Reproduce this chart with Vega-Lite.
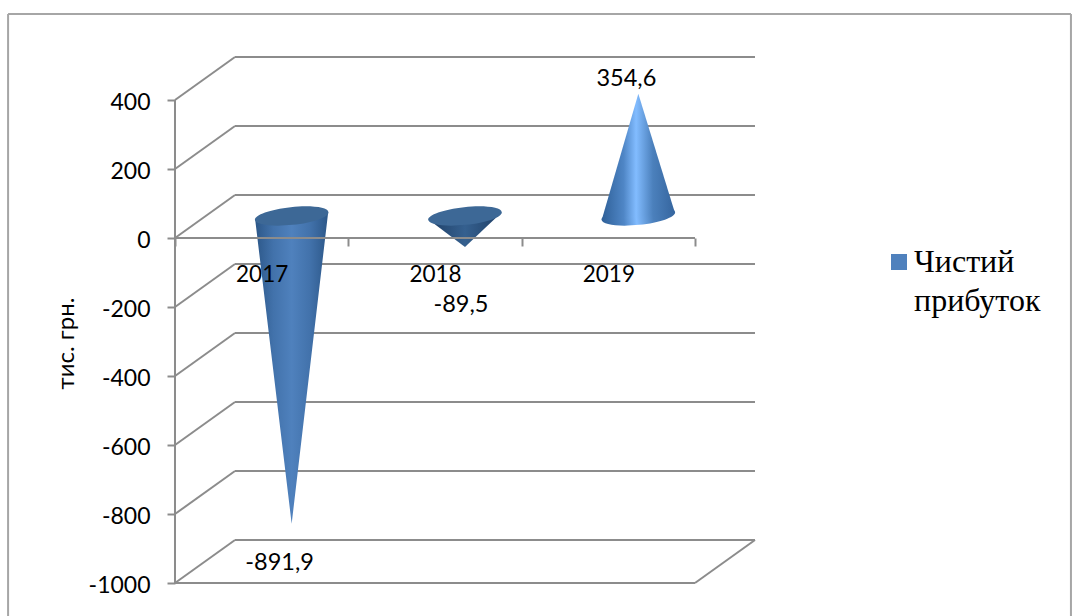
{
  "$schema": "https://vega.github.io/schema/vega-lite/v6.json",
  "width": 1078,
  "height": 616,
  "padding": 0,
  "autosize": "none",
  "background": "white",
  "config": {"view": {"stroke": null}},
  "datasets": {
    "profit": [
      {"year": 2017, "value": -891.9, "series": "Чистий прибуток"},
      {"year": 2018, "value": -89.5, "series": "Чистий прибуток"},
      {"year": 2019, "value": 354.6, "series": "Чистий прибуток"}
    ],
    "levels": [
      {"level": 400}, {"level": 200}, {"level": 0}, {"level": -200},
      {"level": -400}, {"level": -600}, {"level": -800}, {"level": -1000}
    ],
    "single": [{"row": 1}]
  },
  "layer": [
    {
      "description": "outer frame",
      "data": {"name": "single"},
      "mark": {"type": "rule", "color": "#a6a6a6", "strokeWidth": 2},
      "encoding": {
        "x": {"datum": 2015.537, "type": "quantitative", "axis": null,
          "scale": {"domain": [2015.4904, 2021.7097], "nice": false, "zero": false}},
        "x2": {"datum": 2021.669},
        "y": {"datum": 649, "type": "quantitative", "axis": null,
          "scale": {"domain": [-1095.65, 689.86], "nice": false, "zero": false}}
      }
    },
    {
      "data": {"name": "single"},
      "mark": {"type": "rule", "color": "#a6a6a6", "strokeWidth": 2},
      "encoding": {
        "x": {"datum": 2015.537, "type": "quantitative", "axis": null},
        "y": {"datum": 649, "type": "quantitative", "axis": null},
        "y2": {"datum": -1095.65}
      }
    },
    {
      "data": {"name": "single"},
      "mark": {"type": "rule", "color": "#a6a6a6", "strokeWidth": 2},
      "encoding": {
        "x": {"datum": 2021.669, "type": "quantitative", "axis": null},
        "y": {"datum": 649, "type": "quantitative", "axis": null},
        "y2": {"datum": -1095.65}
      }
    },
    {
      "description": "back wall lines",
      "data": {"name": "levels"},
      "mark": {"type": "rule", "color": "#8c8c8c", "strokeWidth": 2, "xOffset": 60, "x2Offset": 60, "yOffset": -43},
      "encoding": {
        "x": {"datum": 2016.5, "type": "quantitative", "axis": null},
        "x2": {"datum": 2019.5},
        "y": {"field": "level", "type": "quantitative", "axis": null}
      }
    },
    {
      "description": "side wall lines",
      "data": {"name": "levels"},
      "mark": {"type": "rule", "color": "#8c8c8c", "strokeWidth": 2, "x2Offset": 60, "y2Offset": -43},
      "encoding": {
        "x": {"datum": 2016.5, "type": "quantitative", "axis": null},
        "x2": {"datum": 2016.5},
        "y": {"field": "level", "type": "quantitative", "axis": null},
        "y2": {"field": "level"}
      }
    },
    {
      "description": "floor edges",
      "data": {"name": "single"},
      "mark": {"type": "rule", "color": "#8c8c8c", "strokeWidth": 2},
      "encoding": {
        "x": {"datum": 2016.5, "type": "quantitative", "axis": null},
        "x2": {"datum": 2019.5},
        "y": {"datum": -1000, "type": "quantitative", "axis": null}
      }
    },
    {
      "data": {"name": "single"},
      "mark": {"type": "rule", "color": "#8c8c8c", "strokeWidth": 2, "x2Offset": 60, "y2Offset": -43},
      "encoding": {
        "x": {"datum": 2019.5, "type": "quantitative", "axis": null},
        "x2": {"datum": 2019.5},
        "y": {"datum": -1000, "type": "quantitative", "axis": null},
        "y2": {"datum": -1000}
      }
    },
    {
      "description": "vertical value axis with its ticks and labels",
      "data": {"name": "single"},
      "mark": {"type": "rule", "color": "#8c8c8c", "strokeWidth": 2},
      "encoding": {
        "x": {"datum": 2016.5, "type": "quantitative", "axis": null},
        "y": {"datum": 400, "type": "quantitative",
          "axis": {
            "orient": "left", "offset": -175, "domain": false, "grid": false,
            "values": [400, 200, 0, -200, -400, -600, -800, -1000],
            "tickSize": 8, "tickWidth": 2, "tickColor": "#8c8c8c",
            "labelFont": "Lato", "labelFontSize": 23, "labelColor": "#000000", "labelPadding": 17, "labelOffset": 2,
            "labelExpr": "'' + datum.value",
            "title": "тис. грн.", "titleFont": "Lato", "titleFontSize": 24, "titleFontWeight": "normal",
            "titleColor": "#000000", "titleX": -109, "titleY": 343, "titleAngle": -90,
            "titleAlign": "center", "titleBaseline": "middle"
          }},
        "y2": {"datum": -1000}
      }
    },
    {
      "description": "base of the upward cone, seen from below",
      "data": {"name": "profit"},
      "transform": [{"filter": "datum.year === 2019"}],
      "mark": {
        "type": "point", "filled": true, "opacity": 1, "shape": "M-1,0A1,0.24 0 1 1 1,0A1,0.24 0 1 1 -1,0Z",
        "size": 5476, "angle": -6, "xOffset": 30, "yOffset": -22,
        "fill": {"x1": 0, "x2": 1, "y1": 0, "y2": 0, "gradient": "linear", "stops": [
          {"offset": 0, "color": "#2f6098"}, {"offset": 0.3, "color": "#4f86c6"},
          {"offset": 0.47, "color": "#82bcff"}, {"offset": 0.7, "color": "#4b80bc"}, {"offset": 1, "color": "#35659e"}]}
      },
      "encoding": {
        "x": {"field": "year", "type": "quantitative", "axis": null},
        "y": {"datum": 0, "type": "quantitative", "axis": null}
      }
    },
    {
      "description": "upward cone body",
      "data": {"name": "profit"},
      "transform": [
        {"filter": "datum.year === 2019"},
        {"calculate": "[-0.2105, 0, 0.2105]", "as": "spread"},
        {"flatten": ["spread"]},
        {"calculate": "datum.year + datum.spread", "as": "at"},
        {"calculate": "datum.spread * 48", "as": "rim"},
        {"calculate": "datum.spread === 0 ? datum.value : datum.rim", "as": "edge"}
      ],
      "mark": {
        "type": "area", "orient": "vertical", "xOffset": 30, "x2Offset": 30, "yOffset": -22, "y2Offset": -22,
        "fill": {"x1": 0, "x2": 1, "y1": 0, "y2": 0, "gradient": "linear", "stops": [
          {"offset": 0, "color": "#2f6098"}, {"offset": 0.3, "color": "#4f86c6"},
          {"offset": 0.47, "color": "#82bcff"}, {"offset": 0.7, "color": "#4b80bc"}, {"offset": 1, "color": "#35659e"}]}
      },
      "encoding": {
        "x": {"field": "at", "type": "quantitative", "axis": null},
        "y": {"field": "edge", "type": "quantitative", "axis": null, "stack": null},
        "y2": {"field": "rim"}
      }
    },
    {
      "description": "2017 cone body",
      "data": {"name": "profit"},
      "transform": [
        {"filter": "datum.year === 2017"},
        {"calculate": "[-0.2105, 0, 0.2105]", "as": "spread"},
        {"flatten": ["spread"]},
        {"calculate": "datum.year + datum.spread", "as": "at"},
        {"calculate": "datum.spread * 48", "as": "rim"},
        {"calculate": "datum.spread === 0 ? datum.value : datum.rim", "as": "edge"}
      ],
      "mark": {
        "type": "area", "orient": "vertical", "xOffset": 30, "x2Offset": 30, "yOffset": -22, "y2Offset": -22,
        "fill": {"x1": 0, "x2": 1, "y1": 0, "y2": 0, "gradient": "linear", "stops": [
          {"offset": 0, "color": "#2c5788"}, {"offset": 0.25, "color": "#4272ab"},
          {"offset": 0.5, "color": "#4f81bd"}, {"offset": 0.75, "color": "#4272ab"}, {"offset": 1, "color": "#2c5788"}]}
      },
      "encoding": {
        "x": {"field": "at", "type": "quantitative", "axis": null},
        "y": {"field": "edge", "type": "quantitative", "axis": null, "stack": null},
        "y2": {"field": "rim"}
      }
    },
    {
      "description": "2018 cone body",
      "data": {"name": "profit"},
      "transform": [
        {"filter": "datum.year === 2018"},
        {"calculate": "[-0.2105, 0, 0.2105]", "as": "spread"},
        {"flatten": ["spread"]},
        {"calculate": "datum.year + datum.spread", "as": "at"},
        {"calculate": "datum.spread * 48", "as": "rim"},
        {"calculate": "datum.spread === 0 ? datum.value : datum.rim", "as": "edge"}
      ],
      "mark": {
        "type": "area", "orient": "vertical", "xOffset": 30, "x2Offset": 30, "yOffset": -22, "y2Offset": -22,
        "fill": {"x1": 0, "x2": 1, "y1": 0, "y2": 0, "gradient": "linear", "stops": [
          {"offset": 0, "color": "#1f3f66"}, {"offset": 0.5, "color": "#35608f"}, {"offset": 1, "color": "#1f3f66"}]}
      },
      "encoding": {
        "x": {"field": "at", "type": "quantitative", "axis": null},
        "y": {"field": "edge", "type": "quantitative", "axis": null, "stack": null},
        "y2": {"field": "rim"}
      }
    },
    {
      "description": "open tops of the downward cones",
      "data": {"name": "profit"},
      "transform": [{"filter": "datum.year !== 2019"}],
      "mark": {
        "type": "point", "filled": true, "opacity": 1, "shape": "M-1,0A1,0.24 0 1 1 1,0A1,0.24 0 1 1 -1,0Z",
        "size": 5476, "angle": -6, "xOffset": 30, "yOffset": -22, "fill": "#3d6896"
      },
      "encoding": {
        "x": {"field": "year", "type": "quantitative", "axis": null},
        "y": {"datum": 0, "type": "quantitative", "axis": null}
      }
    },
    {
      "description": "zero line with category ticks",
      "data": {"name": "single"},
      "mark": {"type": "rule", "color": "#8c8c8c", "strokeWidth": 2},
      "encoding": {
        "x": {"datum": 2016.5, "type": "quantitative",
          "axis": {
            "orient": "bottom", "offset": -378, "domain": false, "grid": false, "labels": false, "title": null,
            "values": [2016.5, 2017.5, 2018.5, 2019.5],
            "tickSize": 8, "tickWidth": 2, "tickColor": "#8c8c8c", "zindex": 1
          }},
        "x2": {"datum": 2019.5},
        "y": {"datum": 0, "type": "quantitative", "axis": null}
      }
    },
    {
      "description": "year labels under the zero line, and the series legend",
      "data": {"name": "profit"},
      "mark": {"type": "point", "opacity": 0},
      "encoding": {
        "x": {"field": "year", "type": "quantitative",
          "axis": {
            "orient": "bottom", "offset": -378, "domain": false, "grid": false, "ticks": false, "title": null,
            "values": [2017, 2018, 2019], "format": "d",
            "labelFont": "Lato", "labelFontSize": 22.5, "labelColor": "#000000", "labelPadding": 25, "zindex": 1
          }},
        "y": {"datum": 0, "type": "quantitative", "axis": null},
        "fill": {"field": "series", "type": "nominal",
          "scale": {"range": ["#4f81bd"]},
          "legend": {
            "orient": "none", "legendX": 883, "legendY": 246, "title": null,
            "symbolType": "square", "symbolSize": 256, "symbolOpacity": 1, "symbolStrokeWidth": 0,
            "labelFont": "Liberation Serif", "labelFontSize": 32, "labelColor": "#000000", "labelLimit": 300,
            "labelOffset": -1, "labelExpr": "split(datum.label, ' ')",
            "encoding": {"labels": {"lineHeight": {"value": 39}}}
          }}
      }
    },
    {
      "data": {"name": "profit"},
      "transform": [
        {"filter": "datum.year === 2017"},
        {"calculate": "replace('' + datum.value, '.', ',')", "as": "caption"}
      ],
      "mark": {"type": "text", "font": "Lato", "fontSize": 23.5, "color": "#000000", "dx": 18, "dy": 17, "baseline": "middle"},
      "encoding": {
        "x": {"field": "year", "type": "quantitative", "axis": null},
        "y": {"field": "value", "type": "quantitative", "axis": null},
        "text": {"field": "caption"}
      }
    },
    {
      "data": {"name": "profit"},
      "transform": [
        {"filter": "datum.year === 2018"},
        {"calculate": "replace('' + datum.value, '.', ',')", "as": "caption"}
      ],
      "mark": {"type": "text", "font": "Lato", "fontSize": 23.5, "color": "#000000", "dx": 26, "dy": 36, "baseline": "middle"},
      "encoding": {
        "x": {"field": "year", "type": "quantitative", "axis": null},
        "y": {"field": "value", "type": "quantitative", "axis": null},
        "text": {"field": "caption"}
      }
    },
    {
      "data": {"name": "profit"},
      "transform": [
        {"filter": "datum.year === 2019"},
        {"calculate": "replace('' + datum.value, '.', ',')", "as": "caption"}
      ],
      "mark": {"type": "text", "font": "Lato", "fontSize": 23.5, "color": "#000000", "dx": 18, "dy": -37, "baseline": "middle"},
      "encoding": {
        "x": {"field": "year", "type": "quantitative", "axis": null},
        "y": {"field": "value", "type": "quantitative", "axis": null},
        "text": {"field": "caption"}
      }
    }
  ],
  "resolve": {"axis": {"x": "independent", "y": "independent"}}
}
